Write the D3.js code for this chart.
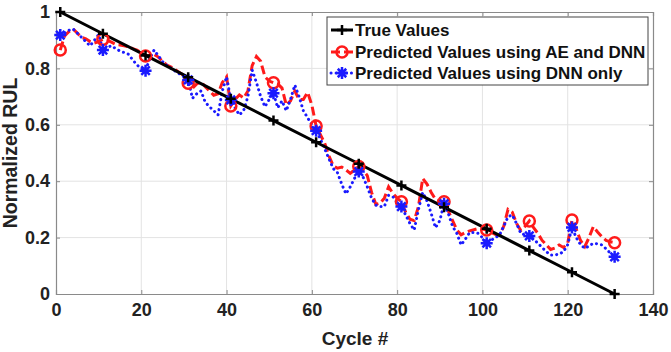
<!DOCTYPE html>
<meta charset="utf-8">
<script src="https://cdn.jsdelivr.net/npm/d3@7"></script>
<style>
  body { margin: 0; background: #fff; }
  text { font-family: "Liberation Sans", Arial, sans-serif; font-weight: bold; }
</style>
<body>
<script>

var width = 671
var height = 352

// cycles where the markers sit
var markerCycles = [1, 11, 21, 31, 41, 51, 61, 71, 81, 91, 101, 111, 121, 131]
var trueValues = [1, 0.923, 0.846, 0.769, 0.692, 0.615, 0.538, 0.462, 0.385, 0.308, 0.231, 0.154, 0.077, 0]

// predicted values, one per cycle 1..131
var aeDnn = [0.865, 0.915, 0.93, 0.94, 0.925, 0.91, 0.905, 0.895, 0.89, 0.895,
  0.903, 0.9, 0.893, 0.885, 0.883, 0.88, 0.877, 0.87, 0.865, 0.855,
  0.844, 0.847, 0.85, 0.84, 0.825, 0.812, 0.805, 0.795, 0.785, 0.775,
  0.747, 0.73, 0.745, 0.753, 0.735, 0.72, 0.705, 0.71, 0.75, 0.77,
  0.667, 0.69, 0.706, 0.695, 0.72, 0.81, 0.842, 0.825, 0.77, 0.755,
  0.749, 0.745, 0.73, 0.67, 0.685, 0.72, 0.69, 0.69, 0.715, 0.67,
  0.596, 0.565, 0.535, 0.49, 0.455, 0.446, 0.45, 0.44, 0.428, 0.44,
  0.452, 0.44, 0.42, 0.36, 0.318, 0.322, 0.34, 0.38, 0.357, 0.34,
  0.327, 0.29, 0.265, 0.26, 0.31, 0.41, 0.39, 0.36, 0.335, 0.33,
  0.327, 0.295, 0.26, 0.227, 0.21, 0.218, 0.224, 0.228, 0.232, 0.23,
  0.227, 0.218, 0.212, 0.208, 0.24, 0.3, 0.29, 0.25, 0.225, 0.24,
  0.259, 0.235, 0.215, 0.19, 0.174, 0.158, 0.163, 0.174, 0.165, 0.18,
  0.262, 0.23, 0.19, 0.168, 0.2, 0.239, 0.22, 0.203, 0.19, 0.185,
  0.182]

var dnnOnly = [0.918, 0.925, 0.935, 0.94, 0.925, 0.91, 0.895, 0.88, 0.9, 0.92,
  0.865, 0.875, 0.88, 0.87, 0.862, 0.856, 0.85, 0.83, 0.812, 0.8,
  0.792, 0.835, 0.865, 0.845, 0.824, 0.81, 0.8, 0.79, 0.78, 0.77,
  0.759, 0.694, 0.71, 0.72, 0.68, 0.664, 0.65, 0.635, 0.72, 0.77,
  0.688, 0.66, 0.635, 0.65, 0.7, 0.794, 0.75, 0.7, 0.664, 0.69,
  0.712, 0.66, 0.685, 0.65, 0.69, 0.741, 0.7, 0.65, 0.625, 0.6,
  0.579, 0.55, 0.515, 0.48, 0.445, 0.43, 0.39, 0.355, 0.38, 0.41,
  0.434, 0.415, 0.38, 0.34, 0.315, 0.31, 0.31, 0.35, 0.345, 0.325,
  0.31, 0.28, 0.25, 0.227, 0.3, 0.36, 0.33, 0.285, 0.235, 0.26,
  0.32, 0.285, 0.24, 0.215, 0.174, 0.195, 0.218, 0.218, 0.215, 0.2,
  0.18, 0.19, 0.2, 0.209, 0.24, 0.274, 0.28, 0.25, 0.215, 0.21,
  0.206, 0.195, 0.18, 0.165, 0.15, 0.138, 0.138, 0.142, 0.15, 0.175,
  0.236, 0.2, 0.175, 0.162, 0.17, 0.18, 0.178, 0.174, 0.16, 0.145,
  0.132]

var xTicks = [0, 20, 40, 60, 80, 100, 120, 140]
var yTicks = [0, 0.2, 0.4, 0.6, 0.8, 1]
var legendLabels = ["True Values", "Predicted Values using AE and DNN", "Predicted Values using DNN only"]

var x = d3.scaleLinear().domain([0, 140]).range([56, 653])
var y = d3.scaleLinear().domain([0, 1]).range([294, 12])

var svg = d3.select("body").append("svg")
    .attr("width", width)
    .attr("height", height)

// grid
svg.append("g").selectAll("line").data(xTicks.slice(1, -1)).join("line")
    .attr("x1", d => x(d)).attr("x2", d => x(d))
    .attr("y1", y(0)).attr("y2", y(1))
    .attr("stroke", "#e3e3e3").attr("stroke-width", 1)
svg.append("g").selectAll("line").data(yTicks.slice(1, -1)).join("line")
    .attr("x1", x(0)).attr("x2", x(140))
    .attr("y1", d => y(d)).attr("y2", d => y(d))
    .attr("stroke", "#e3e3e3").attr("stroke-width", 1)

// axes
svg.append("g")
    .attr("transform", "translate(0," + y(0) + ")")
    .call(d3.axisBottom(x).tickValues(xTicks).tickSize(-4).tickPadding(9).tickFormat(d3.format("d")))
svg.append("g")
    .attr("transform", "translate(" + x(0) + ",0)")
    .call(d3.axisLeft(y).tickValues(yTicks).tickSize(-4).tickPadding(6).tickFormat(d => d == 0 || d == 1 ? d : d3.format(".1f")(d)))
svg.append("g")
    .attr("transform", "translate(0," + y(1) + ")")
    .call(d3.axisTop(x).tickValues(xTicks).tickSize(-4).tickFormat(""))
svg.append("g")
    .attr("transform", "translate(" + x(140) + ",0)")
    .call(d3.axisRight(y).tickValues(yTicks).tickSize(-4).tickFormat(""))

svg.selectAll(".domain").attr("stroke", "#8a8a8a").attr("stroke-width", 1.2)
svg.selectAll(".tick line").attr("stroke", "#8a8a8a")
svg.selectAll(".tick text").attr("font-size", 18).attr("fill", "#222")
    .style("font-family", "'Liberation Sans', Arial, sans-serif").style("font-weight", "bold")

svg.append("text")
    .attr("x", 355).attr("y", 345)
    .attr("text-anchor", "middle").attr("font-size", 19).attr("fill", "#222")
    .text("Cycle #")
svg.append("text")
    .attr("transform", "translate(17," + 153 + ") rotate(-90)")
    .attr("text-anchor", "middle").attr("font-size", 19.5).attr("fill", "#222")
    .text("Normalized RUL")

var cycles = aeDnn.map((d, i) => i + 1)
var line = d3.line().x(d => x(d[0])).y(d => y(d[1]))

var plot = svg.append("g")

plot.append("path")
    .attr("d", line(cycles.map((c, i) => [c, aeDnn[i]])))
    .attr("fill", "none").attr("stroke", "#ff1a1a").attr("stroke-width", 3)
    .attr("stroke-dasharray", "9,4")

plot.append("path")
    .attr("d", line(cycles.map((c, i) => [c, dnnOnly[i]])))
    .attr("fill", "none").attr("stroke", "#1a1aff").attr("stroke-width", 3)
    .attr("stroke-dasharray", "0.1,5").attr("stroke-linecap", "round")

plot.append("path")
    .attr("d", line(markerCycles.map((c, i) => [c, trueValues[i]])))
    .attr("fill", "none").attr("stroke", "#000").attr("stroke-width", 3)

function star(g, cx, cy, r, color) {
  var a = r * 0.707
  g.append("path")
    .attr("d", "M" + (cx - r) + "," + cy + "H" + (cx + r) + "M" + cx + "," + (cy - r) + "V" + (cy + r)
      + "M" + (cx - a) + "," + (cy - a) + "L" + (cx + a) + "," + (cy + a)
      + "M" + (cx - a) + "," + (cy + a) + "L" + (cx + a) + "," + (cy - a))
    .attr("stroke", color).attr("stroke-width", 2.5).attr("fill", "none")
}
function plus(g, cx, cy, r) {
  g.append("path")
    .attr("d", "M" + (cx - r) + "," + cy + "H" + (cx + r) + "M" + cx + "," + (cy - r) + "V" + (cy + r))
    .attr("stroke", "#000").attr("stroke-width", 2.5).attr("fill", "none")
}

markerCycles.forEach(function(c, i) {
  plot.append("circle")
      .attr("cx", x(c)).attr("cy", y(aeDnn[c - 1])).attr("r", 5.5)
      .attr("fill", "none").attr("stroke", "#ff1a1a").attr("stroke-width", 2.5)
  star(plot, x(c), y(dnnOnly[c - 1]), 6, "#1a1aff")
  plus(plot, x(c), y(trueValues[i]), 5)
})

// legend
var legend = svg.append("g")
legend.append("rect")
    .attr("x", 327).attr("y", 17).attr("width", 321).attr("height", 68)
    .attr("fill", "#fff").attr("stroke", "#444").attr("stroke-width", 1)

var rowY = [30, 52, 73]
legendLabels.forEach(function(t, i) {
  var ly = rowY[i]
  var l = legend.append("line").attr("x1", 331).attr("x2", 353).attr("y1", ly).attr("y2", ly)
      .attr("stroke-width", 3)
  if (i == 0) { l.attr("stroke", "#000"); plus(legend, 342, ly, 5) }
  if (i == 1) { l.attr("stroke", "#ff1a1a").attr("stroke-dasharray", "9,4")
    legend.append("circle").attr("cx", 342).attr("cy", ly).attr("r", 5.5)
      .attr("fill", "none").attr("stroke", "#ff1a1a").attr("stroke-width", 2.5) }
  if (i == 2) { l.attr("stroke", "#1a1aff").attr("stroke-dasharray", "0.1,5").attr("stroke-linecap", "round")
    star(legend, 342, ly, 6, "#1a1aff") }
  legend.append("text").attr("x", 355).attr("y", ly + 6)
      .attr("font-size", 17).attr("fill", "#111").text(t)
})

</script>
</body>
